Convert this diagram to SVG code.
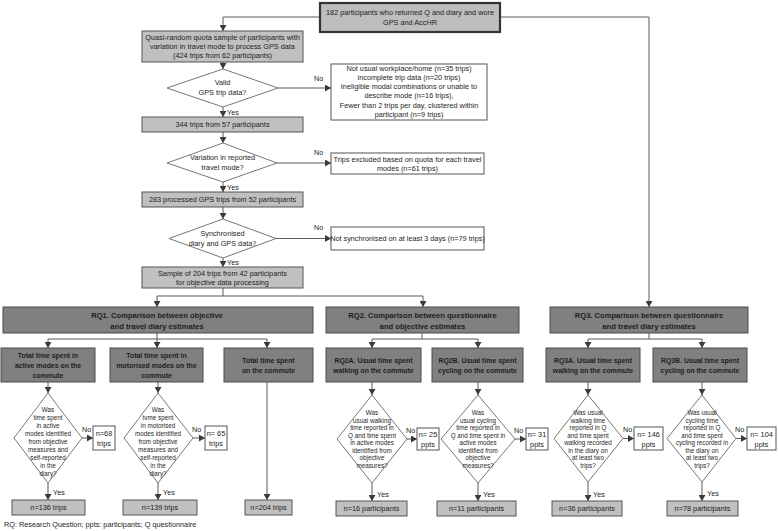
<svg xmlns="http://www.w3.org/2000/svg" width="778" height="531" viewBox="0 0 778 531">
<defs>
<marker id="ah" markerUnits="userSpaceOnUse" markerWidth="7" markerHeight="7" refX="6" refY="3.5" orient="auto">
<path d="M0,0 L6,3.5 L0,7 Z" fill="#3a3a3a"/>
</marker>
<style>
text{font-family:"Liberation Sans",Arial,sans-serif;fill:#1e1e1e;text-anchor:middle}
.t{font-size:7.3px}
.s{font-size:6.3px}
.b{font-size:7.6px;font-weight:bold}
.cb{font-size:6.9px;font-weight:bold}
.lbl{font-size:7.2px;text-anchor:start}
.light{fill:#c0c0c0;stroke:#555;stroke-width:1}
.white{fill:#fff;stroke:#555;stroke-width:1}
.dark{fill:#808080;stroke:#4a4a4a;stroke-width:1}
.dia{fill:#fff;stroke:#777;stroke-width:1}
.c path{fill:none;stroke:#5a5a5a;stroke-width:1}
.c .a{marker-end:url(#ah)}
</style>
</defs>
<rect width="778" height="531" fill="#fff"/>

<g class="c" id="connectors">
<path class="a" d="M320,17 H223 V31"/>
<path class="a" d="M500,17 H649 V307"/>
<path class="a" d="M223,62 V69"/>
<path class="a" d="M278,88 H331"/>
<path class="a" d="M223,107 V117"/>
<path class="a" d="M223,132 V143"/>
<path class="a" d="M277,163 H331"/>
<path class="a" d="M223,182 V192"/>
<path class="a" d="M223,207 V219"/>
<path class="a" d="M276,238.5 H331"/>
<path class="a" d="M223,258 V267"/>
<path d="M223,288 V296 M157,296 H423"/>
<path class="a" d="M157,296 V307"/>
<path class="a" d="M423,296 V307"/>
<path d="M157,333 V339 M48,339 H267"/>
<path class="a" d="M48,339 V348"/>
<path class="a" d="M157,339 V348"/>
<path class="a" d="M267,339 V348"/>
<path d="M422,333 V339 M372,339 H478"/>
<path class="a" d="M372,339 V348"/>
<path class="a" d="M478,339 V348"/>
<path d="M649,333 V339 M588,339 H702"/>
<path class="a" d="M588,339 V348"/>
<path class="a" d="M702,339 V348"/>
<path class="a" d="M48,382 V393"/>
<path class="a" d="M158,382 V393"/>
<path class="a" d="M267,382 V500"/>
<path class="a" d="M372,382 V395"/>
<path class="a" d="M478,382 V395"/>
<path class="a" d="M588,382 V395"/>
<path class="a" d="M702,382 V395"/>
<path class="a" d="M82,438 H93"/>
<path class="a" d="M193,438 H205"/>
<path class="a" d="M407,439 H417"/>
<path class="a" d="M515,439 H526"/>
<path class="a" d="M623,438.5 H634"/>
<path class="a" d="M736,438.5 H747"/>
<path class="a" d="M48,483 V500"/>
<path class="a" d="M158,483 V500"/>
<path class="a" d="M372,483 V501"/>
<path class="a" d="M478,483 V501"/>
<path class="a" d="M588,482 V501"/>
<path class="a" d="M702,482 V501"/>
</g>

<g id="labels">
<text class="lbl" x="314" y="81">No</text>
<text class="lbl" x="314" y="155">No</text>
<text class="lbl" x="314" y="230">No</text>
<text class="lbl" x="227" y="115">Yes</text>
<text class="lbl" x="227" y="190">Yes</text>
<text class="lbl" x="227" y="265">Yes</text>
<text class="lbl" x="82" y="432">No</text>
<text class="lbl" x="192" y="432">No</text>
<text class="lbl" x="406" y="433">No</text>
<text class="lbl" x="514" y="433">No</text>
<text class="lbl" x="623" y="432">No</text>
<text class="lbl" x="735" y="432">No</text>
<text class="lbl" x="53" y="495">Yes</text>
<text class="lbl" x="163" y="495">Yes</text>
<text class="lbl" x="377" y="497">Yes</text>
<text class="lbl" x="483" y="497">Yes</text>
<text class="lbl" x="593" y="497">Yes</text>
<text class="lbl" x="707" y="496">Yes</text>
</g>

<g id="n_start">
<rect x="320" y="3" width="180" height="29" fill="#bdbdbd" stroke="#333" stroke-width="2.2"/>
<text class="t" x="410" y="15">182 participants who returned Q and diary and wore</text>
<text class="t" x="410" y="25">GPS and AccHR</text>
</g>
<g id="n_quasi">
<rect class="light" x="142" y="31" width="161" height="31"/>
<text class="t" x="222.5" y="40">Quasi-random quota sample of participants with</text>
<text class="t" x="222.5" y="49">variation in travel mode to process GPS data</text>
<text class="t" x="222.5" y="58">(424 trips from 62 participants)</text>
</g>
<g id="d_valid">
<polygon class="dia" points="223,69 278,88 223,107 167,88"/>
<text class="t" x="222.5" y="85">Valid</text>
<text class="t" x="222.5" y="95">GPS trip data?</text>
</g>
<g id="n_excl1">
<rect class="white" x="331" y="64" width="156" height="56"/>
<text class="t" x="409" y="70.5">Not usual workplace/home (n=35 trips)</text>
<text class="t" x="409" y="79.8">incomplete trip data (n=20 trips)</text>
<text class="t" x="409" y="89.1">Ineligible modal combinations or unable to</text>
<text class="t" x="409" y="98.4">describe mode (n=16 trips),</text>
<text class="t" x="409" y="107.7">Fewer than 2 trips per day, clustered within</text>
<text class="t" x="409" y="117">participant (n=9 trips)</text>
</g>
<g id="n_344">
<rect class="light" x="142" y="117" width="161" height="15"/>
<text class="t" x="222.5" y="127.3">344 trips from 57 participants</text>
</g>
<g id="d_variation">
<polygon class="dia" points="223,143 277,163 223,182 167,163"/>
<text class="t" x="222.5" y="160">Variation in reported</text>
<text class="t" x="222.5" y="170">travel mode?</text>
</g>
<g id="n_excl2">
<rect class="white" x="331" y="153" width="153" height="21"/>
<text class="t" x="407.5" y="161.5">Trips excluded based on quota for each travel</text>
<text class="t" x="407.5" y="171">modes (n=61 trips)</text>
</g>
<g id="n_283">
<rect class="light" x="142" y="192" width="161" height="15"/>
<text class="t" x="222.5" y="202.3">283 processed GPS trips from 52 participants</text>
</g>
<g id="d_sync">
<polygon class="dia" points="223,219 276,238.5 223,258 169,238.5"/>
<text class="t" x="222.5" y="235.5">Synchronised</text>
<text class="t" x="222.5" y="245.5">diary and GPS data?</text>
</g>
<g id="n_excl3">
<rect class="white" x="331" y="227" width="153" height="23"/>
<text class="t" x="407.5" y="241">Not synchronised on at least 3 days (n=79 trips)</text>
</g>
<g id="n_sample">
<rect class="light" x="142" y="267" width="161" height="21"/>
<text class="t" x="222.5" y="275.5">Sample of 204 trips from 42 participants</text>
<text class="t" x="222.5" y="285">for objective data processing</text>
</g>

<g id="n_rq1">
<rect class="dark" x="3" y="307" width="310" height="26"/>
<text class="b" x="157" y="317.5">RQ1. Comparison between objective</text>
<text class="b" x="157" y="329">and travel diary estimates</text>
</g>
<g id="n_rq2">
<rect class="dark" x="326" y="307" width="193" height="26"/>
<text class="b" x="422.5" y="317.5">RQ2. Comparison between questionnaire</text>
<text class="b" x="422.5" y="329">and objective estimates</text>
</g>
<g id="n_rq3">
<rect class="dark" x="550" y="307" width="198" height="26"/>
<text class="b" x="649" y="317.5">RQ3. Comparison between questionnaire</text>
<text class="b" x="649" y="329">and travel diary estimates</text>
</g>

<g id="n_rq1a">
<rect class="dark" x="1" y="348" width="94" height="34"/>
<text class="cb" x="48" y="357.5">Total time spent in</text>
<text class="cb" x="48" y="367.5">active modes on the</text>
<text class="cb" x="48" y="377.5">commute</text>
</g>
<g id="n_rq1b">
<rect class="dark" x="110" y="348" width="93" height="34"/>
<text class="cb" x="156.5" y="357.5">Total time spent in</text>
<text class="cb" x="156.5" y="367.5">motorised modes on the</text>
<text class="cb" x="156.5" y="377.5">commute</text>
</g>
<g id="n_rq1c">
<rect class="dark" x="224" y="348" width="89" height="34"/>
<text class="cb" x="268.5" y="362.5">Total time spent</text>
<text class="cb" x="268.5" y="372.5">on the commute</text>
</g>
<g id="n_rq2a">
<rect class="dark" x="326" y="348" width="95" height="34"/>
<text class="cb" x="373.5" y="362.5">RQ2A. Usual time spent</text>
<text class="cb" x="373.5" y="372.5">walking on the commute</text>
</g>
<g id="n_rq2b">
<rect class="dark" x="432" y="348" width="91" height="34"/>
<text class="cb" x="477.5" y="362.5">RQ2B. Usual time spent</text>
<text class="cb" x="477.5" y="372.5">cycling on the commute</text>
</g>
<g id="n_rq3a">
<rect class="dark" x="546" y="348" width="94" height="34"/>
<text class="cb" x="593" y="362.5">RQ3A. Usual time spent</text>
<text class="cb" x="593" y="372.5">walking on the commute</text>
</g>
<g id="n_rq3b">
<rect class="dark" x="653" y="348" width="94" height="34"/>
<text class="cb" x="700" y="362.5">RQ3B. Usual time spent</text>
<text class="cb" x="700" y="372.5">cycling on the commute</text>
</g>

<g id="d_rq1a">
<polygon class="dia" points="48,393 82,438 48,483 14,438"/>
<text class="s" x="48" y="412">Was</text>
<text class="s" x="48" y="420">time spent</text>
<text class="s" x="48" y="428">in active</text>
<text class="s" x="48" y="436">modes identified</text>
<text class="s" x="48" y="444">from objective</text>
<text class="s" x="48" y="452">measures and</text>
<text class="s" x="48" y="460">self-reported</text>
<text class="s" x="48" y="468">in the</text>
<text class="s" x="48" y="476">diary?</text>
</g>
<g id="d_rq1b">
<polygon class="dia" points="158,393 193,438 158,483 124,438"/>
<text class="s" x="158" y="412">Was</text>
<text class="s" x="158" y="420">tvme spent</text>
<text class="s" x="158" y="428">in motorised</text>
<text class="s" x="158" y="436">modes identified</text>
<text class="s" x="158" y="444">from objective</text>
<text class="s" x="158" y="452">measures and</text>
<text class="s" x="158" y="460">self-reported</text>
<text class="s" x="158" y="468">in the</text>
<text class="s" x="158" y="476">diary?</text>
</g>
<g id="d_rq2a">
<polygon class="dia" points="372,395 407,439 372,483 337,439"/>
<text class="s" x="372" y="415">Was</text>
<text class="s" x="372" y="422.5">usual walking</text>
<text class="s" x="372" y="430">time reported in</text>
<text class="s" x="372" y="437.5">Q and time spent</text>
<text class="s" x="372" y="445">in active modes</text>
<text class="s" x="372" y="452.5">identified from</text>
<text class="s" x="372" y="460">objective</text>
<text class="s" x="372" y="467.5">measures?</text>
</g>
<g id="d_rq2b">
<polygon class="dia" points="478,395 515,439 478,483 441,439"/>
<text class="s" x="478" y="415">Was</text>
<text class="s" x="478" y="422.5">usual cycling</text>
<text class="s" x="478" y="430">time reported in</text>
<text class="s" x="478" y="437.5">Q and time spent in</text>
<text class="s" x="478" y="445">active modes</text>
<text class="s" x="478" y="452.5">identified from</text>
<text class="s" x="478" y="460">objective</text>
<text class="s" x="478" y="467.5">measures?</text>
</g>
<g id="d_rq3a">
<polygon class="dia" points="588,395 623,438.5 588,482 554,438.5"/>
<text class="s" x="588" y="415">Was usual</text>
<text class="s" x="588" y="422.5">walking time</text>
<text class="s" x="588" y="430">reported in Q</text>
<text class="s" x="588" y="437.5">and time spent</text>
<text class="s" x="588" y="445">walking recorded</text>
<text class="s" x="588" y="452.5">in the diary on</text>
<text class="s" x="588" y="460">at least two</text>
<text class="s" x="588" y="467.5">trips?</text>
</g>
<g id="d_rq3b">
<polygon class="dia" points="702,395 736,438.5 702,482 667,438.5"/>
<text class="s" x="702" y="415">Was usual</text>
<text class="s" x="702" y="422.5">cycling time</text>
<text class="s" x="702" y="430">reported in Q</text>
<text class="s" x="702" y="437.5">and time spent</text>
<text class="s" x="702" y="445">cycling recorded in</text>
<text class="s" x="702" y="452.5">the diary on</text>
<text class="s" x="702" y="460">at least two</text>
<text class="s" x="702" y="467.5">trips?</text>
</g>

<g id="n_no68">
<rect class="white" x="93" y="426" width="22" height="24"/>
<text class="t" x="104" y="436">n=68</text>
<text class="t" x="104" y="446">trips</text>
</g>
<g id="n_no65">
<rect class="white" x="205" y="426" width="22" height="24"/>
<text class="t" x="216" y="436">n= 65</text>
<text class="t" x="216" y="446">trips</text>
</g>
<g id="n_no25">
<rect class="white" x="417" y="428" width="22" height="22"/>
<text class="t" x="428" y="437">n= 25</text>
<text class="t" x="428" y="447">ppts</text>
</g>
<g id="n_no31">
<rect class="white" x="526" y="428" width="22" height="22"/>
<text class="t" x="537" y="437">n= 31</text>
<text class="t" x="537" y="447">ppts</text>
</g>
<g id="n_no146">
<rect class="white" x="634" y="427" width="29" height="23"/>
<text class="t" x="648.5" y="436.5">n= 146</text>
<text class="t" x="648.5" y="446.5">ppts</text>
</g>
<g id="n_no104">
<rect class="white" x="747" y="427" width="29" height="23"/>
<text class="t" x="761.5" y="436.5">n= 104</text>
<text class="t" x="761.5" y="446.5">ppts</text>
</g>

<g id="n_136">
<rect class="light" x="12" y="500" width="73" height="15"/>
<text class="t" x="48.5" y="510">n=136 trips</text>
</g>
<g id="n_139">
<rect class="light" x="123" y="500" width="74" height="15"/>
<text class="t" x="160" y="510">n=139 trips</text>
</g>
<g id="n_204">
<rect class="light" x="245" y="500" width="47" height="15"/>
<text class="t" x="268.5" y="510">n=204 trips</text>
</g>
<g id="n_16">
<rect class="light" x="336" y="501" width="71" height="15"/>
<text class="t" x="371.5" y="511">n=16 participants</text>
</g>
<g id="n_11">
<rect class="light" x="437" y="501" width="79" height="15"/>
<text class="t" x="476.5" y="511">n=11 participants</text>
</g>
<g id="n_36">
<rect class="light" x="552" y="501" width="70" height="15"/>
<text class="t" x="587" y="511">n=36 participants</text>
</g>
<g id="n_78">
<rect class="light" x="667" y="501" width="71" height="15"/>
<text class="t" x="702.5" y="511">n=78 participants</text>
</g>

<text class="t" x="4" y="527" style="text-anchor:start">RQ: Research Question; ppts: participants; Q questionnaire</text>
</svg>
